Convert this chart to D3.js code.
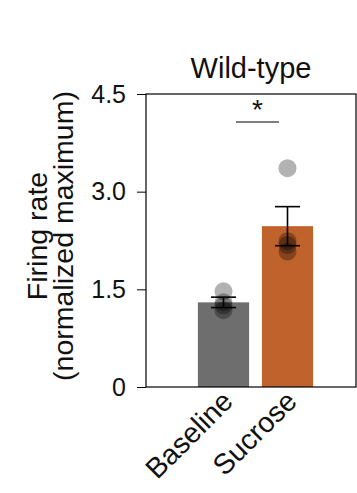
<!DOCTYPE html>
<html><head><meta charset="utf-8">
<script src="https://cdn.jsdelivr.net/npm/d3@7"></script>
<style>
html,body{margin:0;padding:0;background:#fff;}
svg text{font-family:"Liberation Sans",Arial,sans-serif;fill:#111;}
</style></head>
<body><svg id="c" width="357" height="493"></svg>
<script>
const categories = ["Baseline", "Sucrose"];
const means = [1.30, 2.47];
const sems = [0.08, 0.30];
const baselinePoints = [1.47, 1.30, 1.25, 1.18];
const sucrosePoints = [3.36, 2.24, 2.18, 2.08];
const yTicks = [0, 1.5, 3.0, 4.5];
const yTickLabels = ["0", "1.5", "3.0", "4.5"];
const barColors = ["#6e6e6e", "#c0622b"];
const title = "Wild-type";

const svg = d3.select("#c");
const L = 146, R = 356, T = 94, B = 387;
const y = d3.scaleLinear().domain([0, 4.5]).range([B, T]);
const x = d3.scaleBand().domain(categories).range([191.5, 319.5]).paddingInner(0.2).paddingOuter(0.1);

// bars
svg.selectAll("rect.bar").data(categories).join("rect")
  .attr("x", d => x(d)).attr("width", x.bandwidth())
  .attr("y", (d, i) => y(means[i])).attr("height", (d, i) => y(0) - y(means[i]))
  .attr("fill", (d, i) => barColors[i]);

// points
const pts = [];
baselinePoints.forEach(v => pts.push({c: categories[0], v}));
sucrosePoints.forEach(v => pts.push({c: categories[1], v}));
svg.selectAll("circle.pt").data(pts).join("circle")
  .attr("cx", d => x(d.c) + x.bandwidth() / 2).attr("cy", d => y(d.v))
  .attr("r", 9).attr("fill", "#000").attr("fill-opacity", 0.3);

// error bars
const eg = svg.append("g").attr("stroke", "#000").attr("stroke-width", 1.6);
categories.forEach((c, i) => {
  const cx = x(c) + x.bandwidth() / 2;
  const hi = y(means[i] + sems[i]), lo = y(means[i] - sems[i]);
  eg.append("line").attr("x1", cx).attr("x2", cx).attr("y1", hi).attr("y2", lo);
  eg.append("line").attr("x1", cx - 12.5).attr("x2", cx + 12.5).attr("y1", hi).attr("y2", hi);
  eg.append("line").attr("x1", cx - 12.5).attr("x2", cx + 12.5).attr("y1", lo).attr("y2", lo);
});

// frame
svg.append("rect").attr("x", L).attr("y", T).attr("width", R - L).attr("height", B - T)
  .attr("fill", "none").attr("stroke", "#000").attr("stroke-width", 1.2);

// y axis
const ya = d3.axisLeft(y).tickValues(yTicks).tickFormat((d, i) => yTickLabels[i]).tickSize(9).tickPadding(11);
const yg = svg.append("g").attr("transform", `translate(${L},0)`).call(ya);
yg.select(".domain").remove();
yg.selectAll("line").attr("stroke", "#000").attr("stroke-width", 1);
yg.selectAll("text").attr("font-size", 25).attr("font-family", "Liberation Sans, Arial, sans-serif").attr("fill", "#111");

// x labels
svg.selectAll("text.xl").data(categories).join("text")
  .attr("transform", d => `translate(${x(d) + x.bandwidth() / 2 + 4},396) rotate(-45)`)
  .attr("text-anchor", "end").attr("dy", "0.35em").attr("font-size", 28.5).text(d => d);

// y label
svg.append("text").attr("transform", "translate(47,236) rotate(-90)")
  .attr("text-anchor", "middle").attr("font-size", 28.5).text("Firing rate");
svg.append("text").attr("transform", "translate(73,236) rotate(-90)")
  .attr("text-anchor", "middle").attr("font-size", 28.5).text("(normalized maximum)");

// title
svg.append("text").attr("x", (L + R) / 2).attr("y", 78).attr("text-anchor", "middle")
  .attr("font-size", 29).text(title);

// significance
svg.append("line").attr("x1", 236).attr("x2", 279).attr("y1", 122).attr("y2", 122).attr("stroke", "#000").attr("stroke-width", 1);
svg.append("text").attr("x", 257.5).attr("y", 119).attr("text-anchor", "middle").attr("font-size", 28).text("*");
</script></body></html>
